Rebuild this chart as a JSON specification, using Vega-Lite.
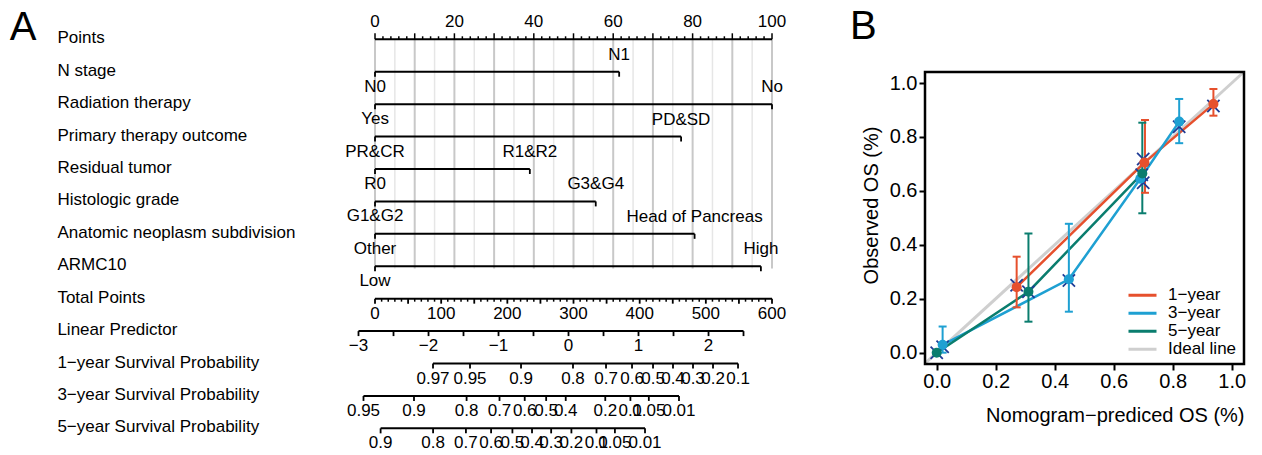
{
  "$schema": "https://vega.github.io/schema/vega-lite/v6.json",
  "width": 1262,
  "height": 455,
  "autosize": {"type": "none"},
  "padding": 0,
  "background": "white",
  "config": {"view": {"stroke": null}, "font": "Liberation Sans"},
  "resolve": {"scale": {"x": "independent", "y": "independent"}, "axis": {"x": "independent", "y": "independent"}},
  "datasets": {
    "rowsA": [
      {"row": 0, "name": "Points"}, {"row": 1, "name": "N stage"}, {"row": 2, "name": "Radiation therapy"},
      {"row": 3, "name": "Primary therapy outcome"}, {"row": 4, "name": "Residual tumor"}, {"row": 5, "name": "Histologic grade"},
      {"row": 6, "name": "Anatomic neoplasm subdivision"}, {"row": 7, "name": "ARMC10"}, {"row": 8, "name": "Total Points"},
      {"row": 9, "name": "Linear Predictor"}, {"row": 10, "name": "1−year Survival Probability"},
      {"row": 11, "name": "3−year Survival Probability"}, {"row": 12, "name": "5−year Survival Probability"}
    ],
    "gridMajor": [{"pt": 0}, {"pt": 10}, {"pt": 20}, {"pt": 30}, {"pt": 40}, {"pt": 50}, {"pt": 60}, {"pt": 70}, {"pt": 80}, {"pt": 90}, {"pt": 100}],
    "gridMinor": [{"pt": 5}, {"pt": 15}, {"pt": 25}, {"pt": 35}, {"pt": 45}, {"pt": 55}, {"pt": 65}, {"pt": 75}, {"pt": 85}, {"pt": 95}],
    "ptsMinor": [{"pt": 2}, {"pt": 4}, {"pt": 6}, {"pt": 8}, {"pt": 12}, {"pt": 14}, {"pt": 16}, {"pt": 18}, {"pt": 22}, {"pt": 24}, {"pt": 26}, {"pt": 28}, {"pt": 32}, {"pt": 34}, {"pt": 36}, {"pt": 38}, {"pt": 42}, {"pt": 44}, {"pt": 46}, {"pt": 48}, {"pt": 52}, {"pt": 54}, {"pt": 56}, {"pt": 58}, {"pt": 62}, {"pt": 64}, {"pt": 66}, {"pt": 68}, {"pt": 72}, {"pt": 74}, {"pt": 76}, {"pt": 78}, {"pt": 82}, {"pt": 84}, {"pt": 86}, {"pt": 88}, {"pt": 92}, {"pt": 94}, {"pt": 96}, {"pt": 98}],
    "segments": [
      {"row": 0, "x0": 0, "x1": 100}, {"row": 1, "x0": 0, "x1": 61.5}, {"row": 2, "x0": 0, "x1": 100},
      {"row": 3, "x0": 0, "x1": 77.1}, {"row": 4, "x0": 0, "x1": 39.0}, {"row": 5, "x0": 0, "x1": 55.6},
      {"row": 6, "x0": 0, "x1": 80.5}, {"row": 7, "x0": 0, "x1": 97.2}, {"row": 8, "x0": 0, "x1": 100},
      {"row": 9, "x0": -4.16, "x1": 92.82}, {"row": 10, "x0": 14.61, "x1": 91.44},
      {"row": 11, "x0": -2.9, "x1": 76.57}, {"row": 12, "x0": 1.41, "x1": 68.01}
    ],
    "downTicks": [
      {"row": 1, "pt": 0}, {"row": 1, "pt": 61.5}, {"row": 2, "pt": 0}, {"row": 2, "pt": 100},
      {"row": 3, "pt": 0}, {"row": 3, "pt": 77.1}, {"row": 4, "pt": 0}, {"row": 4, "pt": 39.0},
      {"row": 5, "pt": 0}, {"row": 5, "pt": 55.6}, {"row": 6, "pt": 0}, {"row": 6, "pt": 80.5},
      {"row": 7, "pt": 0}, {"row": 7, "pt": 97.2},
      {"row": 8, "pt": 0}, {"row": 8, "pt": 8.333}, {"row": 8, "pt": 16.667}, {"row": 8, "pt": 25}, {"row": 8, "pt": 33.333}, {"row": 8, "pt": 41.667}, {"row": 8, "pt": 50}, {"row": 8, "pt": 58.333}, {"row": 8, "pt": 66.667}, {"row": 8, "pt": 75}, {"row": 8, "pt": 83.333}, {"row": 8, "pt": 91.667}, {"row": 8, "pt": 100},
      {"row": 9, "pt": -4.16}, {"row": 9, "pt": 4.66}, {"row": 9, "pt": 13.48}, {"row": 9, "pt": 22.29}, {"row": 9, "pt": 31.11}, {"row": 9, "pt": 39.92}, {"row": 9, "pt": 48.74}, {"row": 9, "pt": 57.56}, {"row": 9, "pt": 66.37}, {"row": 9, "pt": 75.19}, {"row": 9, "pt": 84.01}, {"row": 9, "pt": 92.82},
      {"row": 10, "pt": 14.61}, {"row": 10, "pt": 23.93}, {"row": 10, "pt": 36.78}, {"row": 10, "pt": 49.87}, {"row": 10, "pt": 58.19}, {"row": 10, "pt": 64.74}, {"row": 10, "pt": 70.03}, {"row": 10, "pt": 75.06}, {"row": 10, "pt": 80.1}, {"row": 10, "pt": 85.14}, {"row": 10, "pt": 91.44},
      {"row": 11, "pt": -2.9}, {"row": 11, "pt": 9.82}, {"row": 11, "pt": 23.07}, {"row": 11, "pt": 31.36}, {"row": 11, "pt": 37.71}, {"row": 11, "pt": 43.11}, {"row": 11, "pt": 48.04}, {"row": 11, "pt": 58.0}, {"row": 11, "pt": 64.33}, {"row": 11, "pt": 68.97}, {"row": 11, "pt": 76.57},
      {"row": 12, "pt": 1.41}, {"row": 12, "pt": 14.63}, {"row": 12, "pt": 22.9}, {"row": 12, "pt": 29.24}, {"row": 12, "pt": 34.61}, {"row": 12, "pt": 39.55}, {"row": 12, "pt": 44.37}, {"row": 12, "pt": 49.47}, {"row": 12, "pt": 55.79}, {"row": 12, "pt": 60.43}, {"row": 12, "pt": 68.01}
    ],
    "totMinor": [{"pt": 1.667}, {"pt": 3.333}, {"pt": 5}, {"pt": 6.667}, {"pt": 10}, {"pt": 11.667}, {"pt": 13.333}, {"pt": 15}, {"pt": 18.333}, {"pt": 20}, {"pt": 21.667}, {"pt": 23.333}, {"pt": 26.667}, {"pt": 28.333}, {"pt": 30}, {"pt": 31.667}, {"pt": 35}, {"pt": 36.667}, {"pt": 38.333}, {"pt": 40}, {"pt": 43.333}, {"pt": 45}, {"pt": 46.667}, {"pt": 48.333}, {"pt": 51.667}, {"pt": 53.333}, {"pt": 55}, {"pt": 56.667}, {"pt": 60}, {"pt": 61.667}, {"pt": 63.333}, {"pt": 65}, {"pt": 68.333}, {"pt": 70}, {"pt": 71.667}, {"pt": 73.333}, {"pt": 76.667}, {"pt": 78.333}, {"pt": 80}, {"pt": 81.667}, {"pt": 85}, {"pt": 86.667}, {"pt": 88.333}, {"pt": 90}, {"pt": 93.333}, {"pt": 95}, {"pt": 96.667}, {"pt": 98.333}],
    "labelsAbove": [
      {"row": 0, "pt": 0, "text": "0"}, {"row": 0, "pt": 20, "text": "20"}, {"row": 0, "pt": 40, "text": "40"}, {"row": 0, "pt": 60, "text": "60"}, {"row": 0, "pt": 80, "text": "80"}, {"row": 0, "pt": 100, "text": "100"},
      {"row": 1, "pt": 61.5, "text": "N1"}, {"row": 2, "pt": 100, "text": "No"}, {"row": 3, "pt": 77.1, "text": "PD&SD"},
      {"row": 4, "pt": 39.0, "text": "R1&R2"}, {"row": 5, "pt": 55.6, "text": "G3&G4"}, {"row": 6, "pt": 80.5, "text": "Head of Pancreas"}, {"row": 7, "pt": 97.2, "text": "High"}
    ],
    "labelsBelow": [
      {"row": 1, "pt": 0, "text": "N0"}, {"row": 2, "pt": 0, "text": "Yes"}, {"row": 3, "pt": 0, "text": "PR&CR"}, {"row": 4, "pt": 0, "text": "R0"},
      {"row": 5, "pt": 0, "text": "G1&G2"}, {"row": 6, "pt": 0, "text": "Other"}, {"row": 7, "pt": 0, "text": "Low"},
      {"row": 8, "pt": 0, "text": "0"}, {"row": 8, "pt": 16.667, "text": "100"}, {"row": 8, "pt": 33.333, "text": "200"}, {"row": 8, "pt": 50, "text": "300"}, {"row": 8, "pt": 66.667, "text": "400"}, {"row": 8, "pt": 83.333, "text": "500"}, {"row": 8, "pt": 100, "text": "600"},
      {"row": 9, "pt": -4.16, "text": "−3"}, {"row": 9, "pt": 13.48, "text": "−2"}, {"row": 9, "pt": 31.11, "text": "−1"}, {"row": 9, "pt": 48.74, "text": "0"}, {"row": 9, "pt": 66.37, "text": "1"}, {"row": 9, "pt": 84.01, "text": "2"},
      {"row": 10, "pt": 14.61, "text": "0.97"}, {"row": 10, "pt": 23.93, "text": "0.95"}, {"row": 10, "pt": 36.78, "text": "0.9"}, {"row": 10, "pt": 49.87, "text": "0.8"}, {"row": 10, "pt": 58.19, "text": "0.7"}, {"row": 10, "pt": 64.74, "text": "0.6"}, {"row": 10, "pt": 70.03, "text": "0.5"}, {"row": 10, "pt": 75.06, "text": "0.4"}, {"row": 10, "pt": 80.1, "text": "0.3"}, {"row": 10, "pt": 85.14, "text": "0.2"}, {"row": 10, "pt": 91.44, "text": "0.1"},
      {"row": 11, "pt": -2.9, "text": "0.95"}, {"row": 11, "pt": 9.82, "text": "0.9"}, {"row": 11, "pt": 23.07, "text": "0.8"}, {"row": 11, "pt": 31.36, "text": "0.7"}, {"row": 11, "pt": 37.71, "text": "0.6"}, {"row": 11, "pt": 43.11, "text": "0.5"}, {"row": 11, "pt": 48.04, "text": "0.4"}, {"row": 11, "pt": 58.0, "text": "0.2"}, {"row": 11, "pt": 64.33, "text": "0.1"}, {"row": 11, "pt": 68.97, "text": "0.05"}, {"row": 11, "pt": 76.57, "text": "0.01"},
      {"row": 12, "pt": 1.41, "text": "0.9"}, {"row": 12, "pt": 14.63, "text": "0.8"}, {"row": 12, "pt": 22.9, "text": "0.7"}, {"row": 12, "pt": 29.24, "text": "0.6"}, {"row": 12, "pt": 34.61, "text": "0.5"}, {"row": 12, "pt": 39.55, "text": "0.4"}, {"row": 12, "pt": 44.37, "text": "0.3"}, {"row": 12, "pt": 49.47, "text": "0.2"}, {"row": 12, "pt": 55.79, "text": "0.1"}, {"row": 12, "pt": 60.43, "text": "0.05"}, {"row": 12, "pt": 68.01, "text": "0.01"}
    ],
    "calib": [
      {"series": "1−year", "pred": 0.271, "obs": 0.243}, {"series": "1−year", "pred": 0.704, "obs": 0.705}, {"series": "1−year", "pred": 0.938, "obs": 0.922},
      {"series": "3−year", "pred": 0.02, "obs": 0.029}, {"series": "3−year", "pred": 0.448, "obs": 0.272}, {"series": "3−year", "pred": 0.69, "obs": 0.645}, {"series": "3−year", "pred": 0.822, "obs": 0.857},
      {"series": "5−year", "pred": 0.0, "obs": 0.0}, {"series": "5−year", "pred": 0.311, "obs": 0.226}, {"series": "5−year", "pred": 0.697, "obs": 0.665}
    ],
    "bars": [
      {"series": "1−year", "pred": 0.271, "lo": 0.168, "hi": 0.356}, {"series": "1−year", "pred": 0.706, "lo": 0.593, "hi": 0.863}, {"series": "1−year", "pred": 0.938, "lo": 0.879, "hi": 0.978},
      {"series": "3−year", "pred": 0.02, "lo": 0.0, "hi": 0.097}, {"series": "3−year", "pred": 0.448, "lo": 0.152, "hi": 0.478}, {"series": "3−year", "pred": 0.822, "lo": 0.777, "hi": 0.941},
      {"series": "5−year", "pred": 0.311, "lo": 0.115, "hi": 0.442}, {"series": "5−year", "pred": 0.697, "lo": 0.517, "hi": 0.853}
    ],
    "bias": [
      {"pred": 0.271, "obs": 0.25}, {"pred": 0.7, "obs": 0.718}, {"pred": 0.938, "obs": 0.915},
      {"pred": 0.02, "obs": 0.022}, {"pred": 0.448, "obs": 0.268}, {"pred": 0.7, "obs": 0.63}, {"pred": 0.822, "obs": 0.838},
      {"pred": 0.0, "obs": 0.0}, {"pred": 0.311, "obs": 0.226}, {"pred": 0.695, "obs": 0.66}
    ],
    "ideal": [{"pred": -0.0397, "obs": -0.0397}, {"pred": 1.041, "obs": 1.041}]
  },
  "layer": [
    {
      "layer": [
        {
          "data": {"name": "gridMinor"},
          "mark": {"type": "rule", "color": "#E6E6E6", "strokeWidth": 1.5},
          "encoding": {
            "x": {"field": "pt", "type": "quantitative", "scale": {"domain": [-94.46, 107.05], "range": [0, 800], "nice": false, "zero": false}, "axis": null},
            "y": {"datum": 0, "type": "quantitative", "scale": {"domain": [-1.212, 12.822], "range": [0, 455], "nice": false, "zero": false}, "axis": null},
            "y2": {"datum": 7.07}
          }
        },
        {
          "data": {"name": "gridMajor"},
          "mark": {"type": "rule", "color": "#C8C8C8", "strokeWidth": 2},
          "encoding": {
            "x": {"field": "pt", "type": "quantitative"},
            "y": {"datum": 0, "type": "quantitative"},
            "y2": {"datum": 7.07}
          }
        },
        {
          "data": {"name": "segments"},
          "mark": {"type": "rule", "color": "black", "strokeWidth": 2},
          "encoding": {
            "x": {"field": "x0", "type": "quantitative"},
            "x2": {"field": "x1"},
            "y": {"field": "row", "type": "quantitative"}
          }
        },
        {
          "data": {"name": "gridMajor"},
          "mark": {"type": "tick", "orient": "vertical", "size": 6, "thickness": 1.5, "yOffset": -3, "color": "black", "opacity": 1},
          "encoding": {
            "x": {"field": "pt", "type": "quantitative"},
            "y": {"datum": 0, "type": "quantitative"}
          }
        },
        {
          "data": {"name": "ptsMinor"},
          "mark": {"type": "tick", "orient": "vertical", "size": 3, "thickness": 1.5, "yOffset": -1.5, "color": "black", "opacity": 1},
          "encoding": {
            "x": {"field": "pt", "type": "quantitative"},
            "y": {"datum": 0, "type": "quantitative"}
          }
        },
        {
          "data": {"name": "downTicks"},
          "mark": {"type": "tick", "orient": "vertical", "size": 5, "thickness": 1.8, "yOffset": 2.5, "color": "black", "opacity": 1},
          "encoding": {
            "x": {"field": "pt", "type": "quantitative"},
            "y": {"field": "row", "type": "quantitative"}
          }
        },
        {
          "data": {"name": "totMinor"},
          "mark": {"type": "tick", "orient": "vertical", "size": 3, "thickness": 1.5, "yOffset": 1.5, "color": "black", "opacity": 1},
          "encoding": {
            "x": {"field": "pt", "type": "quantitative"},
            "y": {"datum": 8, "type": "quantitative"}
          }
        },
        {
          "data": {"name": "labelsAbove"},
          "mark": {"type": "text", "fontSize": 17, "dy": -17, "color": "black", "align": "center", "baseline": "middle"},
          "encoding": {
            "x": {"field": "pt", "type": "quantitative"},
            "y": {"field": "row", "type": "quantitative"},
            "text": {"field": "text"}
          }
        },
        {
          "data": {"name": "labelsBelow"},
          "mark": {"type": "text", "fontSize": 17, "dy": 15, "color": "black", "align": "center", "baseline": "middle"},
          "encoding": {
            "x": {"field": "pt", "type": "quantitative"},
            "y": {"field": "row", "type": "quantitative"},
            "text": {"field": "text"}
          }
        },
        {
          "data": {"name": "rowsA"},
          "mark": {"type": "text", "fontSize": 17, "dy": -1, "color": "black", "align": "left", "baseline": "middle"},
          "encoding": {
            "x": {"datum": -80, "type": "quantitative"},
            "y": {"field": "row", "type": "quantitative"},
            "text": {"field": "name"}
          }
        },
        {
          "data": {"values": [{"panel": "A"}]},
          "mark": {"type": "text", "fontSize": 40, "color": "black", "align": "left", "baseline": "middle"},
          "encoding": {
            "x": {"datum": -92, "type": "quantitative"},
            "y": {"datum": -0.36, "type": "quantitative"},
            "text": {"field": "panel"}
          }
        }
      ]
    },
    {
      "layer": [
        {
          "data": {"name": "ideal"},
          "mark": {"type": "line", "strokeWidth": 3},
          "encoding": {
            "x": {"field": "pred", "type": "quantitative", "scale": {"domain": [-0.0397, 1.0417], "range": [925, 1244], "nice": false, "zero": false},
              "axis": {"orient": "bottom", "offset": -91, "values": [0, 0.2, 0.4, 0.6, 0.8, 1.0], "format": ".1f", "labelFontSize": 20, "labelColor": "black", "tickSize": 6, "tickWidth": 2, "tickColor": "black", "labelPadding": 1, "domain": false, "grid": false, "title": "Nomogram−prediced OS (%)", "titleFontSize": 20, "titleFontWeight": "normal", "titleColor": "black", "titleAnchor": "end", "titlePadding": 14}},
            "y": {"field": "obs", "type": "quantitative", "scale": {"domain": [-0.042, 1.041], "range": [364, 72], "nice": false, "zero": false},
              "axis": {"orient": "left", "offset": -925, "values": [0, 0.2, 0.4, 0.6, 0.8, 1.0], "format": ".1f", "labelFontSize": 20, "labelColor": "black", "tickSize": 6, "tickWidth": 2, "tickColor": "black", "labelPadding": 2, "domain": false, "grid": false, "title": "Observed OS (%)", "titleFontSize": 20, "titleFontWeight": "normal", "titleColor": "black", "titlePadding": 8, "titleY": 205}},
            "color": {"datum": "Ideal line", "type": "nominal",
              "scale": {"domain": ["1−year", "3−year", "5−year", "Ideal line"], "range": ["#E6502D", "#1EA0D2", "#0A7D6E", "#CFCFCF"]},
              "legend": {"title": null, "orient": "none", "legendX": 1127, "legendY": 287, "padding": 0, "symbolType": "stroke", "symbolStrokeWidth": 3, "symbolSize": 784, "labelFontSize": 17, "labelColor": "black", "labelOffset": 10, "rowPadding": 0, "clipHeight": 16.7}}
          }
        },
        {
          "data": {"name": "calib"},
          "mark": {"type": "line", "strokeWidth": 2.5},
          "encoding": {
            "x": {"field": "pred", "type": "quantitative"},
            "y": {"field": "obs", "type": "quantitative"},
            "color": {"field": "series", "type": "nominal",
              "legend": {"title": null, "orient": "none", "legendX": 1127, "legendY": 287, "padding": 0, "symbolType": "stroke", "symbolStrokeWidth": 3, "symbolSize": 784, "labelFontSize": 17, "labelColor": "black", "labelOffset": 10, "rowPadding": 0, "clipHeight": 16.7}}
          }
        },
        {
          "data": {"name": "bars"},
          "mark": {"type": "rule", "strokeWidth": 2},
          "encoding": {
            "x": {"field": "pred", "type": "quantitative"},
            "y": {"field": "lo", "type": "quantitative"},
            "y2": {"field": "hi"},
            "stroke": {"field": "series", "type": "nominal", "scale": {"domain": ["1−year", "3−year", "5−year"], "range": ["#E6502D", "#1EA0D2", "#0A7D6E"]}, "legend": null}
          }
        },
        {
          "data": {"name": "bars"},
          "mark": {"type": "tick", "orient": "horizontal", "size": 8, "thickness": 2, "opacity": 1},
          "encoding": {
            "x": {"field": "pred", "type": "quantitative"},
            "y": {"field": "lo", "type": "quantitative"},
            "fill": {"field": "series", "type": "nominal", "scale": {"domain": ["1−year", "3−year", "5−year"], "range": ["#E6502D", "#1EA0D2", "#0A7D6E"]}, "legend": null}
          }
        },
        {
          "data": {"name": "bars"},
          "mark": {"type": "tick", "orient": "horizontal", "size": 8, "thickness": 2, "opacity": 1},
          "encoding": {
            "x": {"field": "pred", "type": "quantitative"},
            "y": {"field": "hi", "type": "quantitative"},
            "fill": {"field": "series", "type": "nominal", "legend": null}
          }
        },
        {
          "data": {"name": "bias"},
          "mark": {"type": "point", "shape": "M-1,-1L1,1M-1,1L1,-1", "filled": false, "size": 150, "strokeWidth": 1.8, "color": "#1F3C96", "opacity": 1},
          "encoding": {
            "x": {"field": "pred", "type": "quantitative"},
            "y": {"field": "obs", "type": "quantitative"}
          }
        },
        {
          "data": {"name": "calib"},
          "mark": {"type": "point", "filled": true, "size": 100, "opacity": 1},
          "encoding": {
            "x": {"field": "pred", "type": "quantitative"},
            "y": {"field": "obs", "type": "quantitative"},
            "fill": {"field": "series", "type": "nominal", "legend": null}
          }
        },
        {
          "data": {"values": [{"panel": "B"}]},
          "mark": {"type": "rect", "filled": false, "stroke": "black", "strokeWidth": 2.5},
          "encoding": {
            "x": {"datum": -0.0397, "type": "quantitative"},
            "x2": {"datum": 1.0417},
            "y": {"datum": -0.042, "type": "quantitative"},
            "y2": {"datum": 1.041}
          }
        },
        {
          "data": {"values": [{"panel": "B"}]},
          "mark": {"type": "text", "fontSize": 40, "color": "black", "align": "left", "baseline": "middle"},
          "encoding": {
            "x": {"datum": -0.294, "type": "quantitative"},
            "y": {"datum": 1.207, "type": "quantitative"},
            "text": {"field": "panel"}
          }
        }
      ]
    }
  ]
}
